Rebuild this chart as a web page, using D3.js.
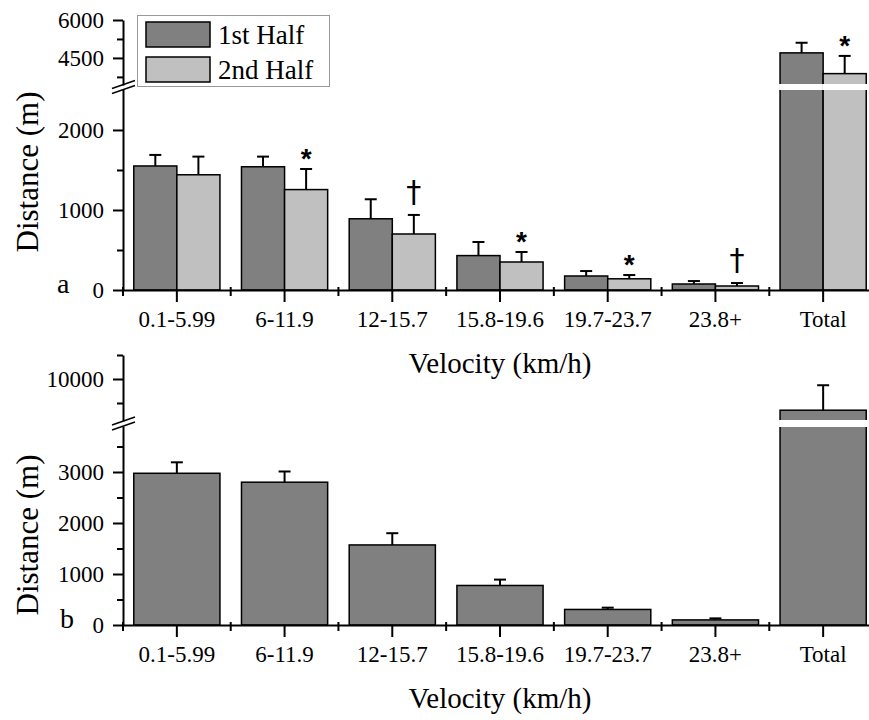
<!DOCTYPE html>
<html>
<head>
<meta charset="utf-8">
<script src="https://cdn.jsdelivr.net/npm/d3@7"></script>
<style>
  body { margin: 0; background: #fff; }
  svg { display: block; font-family: "Liberation Serif", "Times New Roman", serif; }
</style>
</head>
<body>
<svg id="chart" width="869" height="720"></svg>
<script>
// categories on the x axis
var categories = ["0.1-5.99", "6-11.9", "12-15.7", "15.8-19.6", "19.7-23.7", "23.8+", "Total"];

// panel a: distance per half (m) and upper error (SD)
var firstHalf = [1550, 1540, 890, 430, 175, 75, 4700];
var firstHalfErr = [138, 127, 244, 170, 62, 37, 400];
var secondHalf = [1440, 1255, 700, 350, 140, 50, 3880];
var secondHalfErr = [227, 257, 238, 125, 47, 37, 700];
var secondMarks = ["", "*", "\u2020", "*", "*", "\u2020", "*"];

// panel b: whole match distance (m) and upper error
var matchTotal = [2975, 2800, 1570, 775, 305, 100, 9350];
var matchErr = [215, 210, 230, 115, 35, 30, 520];

var seriesNames = ["1st Half", "2nd Half"];

var dark = "#808080", light = "#c0c0c0";
var svg = d3.select("#chart");

var x = d3.scaleBand().domain(categories).range([123, 877]).paddingInner(0.2).paddingOuter(0.1);
var step = x.step();

// broken y scale: a lower piece and an upper piece
function brokenScale(lowDom, lowRange, highDom, highRange) {
  var low = d3.scaleLinear().domain(lowDom).range(lowRange);
  var high = d3.scaleLinear().domain(highDom).range(highRange);
  var f = function (v) { return v <= lowDom[1] ? low(v) : high(v); };
  f.low = low; f.high = high;
  return f;
}

function drawPanel(opt) {
  var g = svg.append("g");
  var y = opt.y;
  var y0 = y.low(0);

  // bars
  opt.series.forEach(function (s) {
    var bars = g.append("g").selectAll("g").data(s.values).enter().append("g");
    bars.append("rect")
      .attr("x", (d, i) => s.xpos(i))
      .attr("y", d => y(d))
      .attr("width", s.width)
      .attr("height", d => y0 - y(d))
      .attr("fill", s.color)
      .attr("stroke", "#000")
      .attr("stroke-width", 1.5);
    // white gap where the bar crosses the axis break
    bars.filter(d => d > y.low.domain()[1]).append("rect")
      .attr("x", d => s.xpos(s.values.indexOf(d)) - 1)
      .attr("y", y.high.range()[0] - 1)
      .attr("width", s.width + 2)
      .attr("height", y.low.range()[1] - y.high.range()[0] + 2)
      .attr("fill", "#fff");
    // error bars
    bars.append("line")
      .attr("x1", (d, i) => s.xpos(i) + s.width / 2)
      .attr("x2", (d, i) => s.xpos(i) + s.width / 2)
      .attr("y1", d => y(d))
      .attr("y2", (d, i) => y(d + s.err[i]))
      .attr("stroke", "#000").attr("stroke-width", 2);
    bars.append("line")
      .attr("x1", (d, i) => s.xpos(i) + s.width / 2 - 6)
      .attr("x2", (d, i) => s.xpos(i) + s.width / 2 + 6)
      .attr("y1", (d, i) => y(d + s.err[i]))
      .attr("y2", (d, i) => y(d + s.err[i]))
      .attr("stroke", "#000").attr("stroke-width", 2);
    if (s.marks) {
      bars.append("text")
        .attr("x", (d, i) => s.xpos(i) + s.width / 2)
        .attr("y", (d, i) => y(d + s.err[i]) - (s.marks[i] == "*" ? 1 : 13))
        .attr("text-anchor", "middle")
        .style("font-family", (d, i) => s.marks[i] == "*" ? "Liberation Sans, Arial, sans-serif" : "DejaVu Sans, sans-serif")
        .attr("font-weight", (d, i) => s.marks[i] == "*" ? "bold" : "normal")
        .attr("font-size", (d, i) => s.marks[i] == "*" ? 28 : 30)
        .text((d, i) => s.marks[i]);
    }
  });

  // y axis pieces
  [[y.low, opt.lowMajor, opt.lowMinor], [y.high, opt.highMajor, opt.highMinor]].forEach(function (p) {
    var ax = g.append("g").attr("transform", "translate(123,0)")
      .call(d3.axisLeft(p[0]).tickValues(p[1]).tickSize(10).tickSizeOuter(0).tickPadding(9).tickFormat(d3.format("d")))
      .attr("font-family", null).attr("font-size", 23);
    g.append("g").attr("transform", "translate(123,0)")
      .call(d3.axisLeft(p[0]).tickValues(p[2]).tickSize(6).tickSizeOuter(0).tickFormat(""))
      .select(".domain").remove();
    ax.selectAll("text").attr("fill", "#000");
  });
  g.selectAll(".domain, .tick line").attr("stroke", "#000").attr("stroke-width", 2);

  // break marks on the y axis
  var yb = (y.high.range()[0] + y.low.range()[1]) / 2;
  [-2.5, 2.5].forEach(function (o) {
    g.append("line")
      .attr("x1", 112).attr("x2", 135)
      .attr("y1", yb + o + 4).attr("y2", yb + o - 4)
      .attr("stroke", "#000").attr("stroke-width", 1.5);
  });

  // x axis
  var xa = g.append("g").attr("transform", "translate(0," + y0 + ")")
    .call(d3.axisBottom(x).tickSize(12).tickSizeOuter(0).tickPadding(9))
    .attr("font-family", null).attr("font-size", 23);
  xa.selectAll("text").attr("fill", "#000");
  var bounds = d3.range(categories.length + 1).map(i => 123 + i * step);
  g.append("g").selectAll("line").data(bounds).enter().append("line")
    .attr("x1", d => d).attr("x2", d => d)
    .attr("y1", y0 - 3).attr("y2", y0 + 6)
    .attr("stroke", "#000").attr("stroke-width", 2);
  xa.selectAll(".domain, .tick line").attr("stroke", "#000").attr("stroke-width", 2);

  g.append("text")
    .attr("x", 500).attr("y", y0 + 83)
    .attr("text-anchor", "middle").attr("font-size", 29)
    .text("Velocity (km/h)");
  g.append("text")
    .attr("transform", "translate(38," + opt.labelY + ") rotate(-90)")
    .attr("text-anchor", "middle").attr("font-size", 31)
    .text("Distance (m)");
  g.append("text")
    .attr("x", opt.letterX).attr("y", y0 + 3)
    .attr("font-size", 28)
    .text(opt.letter);
}

var half = x.bandwidth() / 2;

drawPanel({
  y: brokenScale([0, 2512], [290, 89], [3430, 6000], [85, 20]),
  lowMajor: [0, 1000, 2000], lowMinor: [500, 1500],
  highMajor: [4500, 6000], highMinor: [3750, 5250],
  series: [
    { values: firstHalf, err: firstHalfErr, color: dark, width: half,
      xpos: i => x(categories[i]) },
    { values: secondHalf, err: secondHalfErr, color: light, width: half, marks: secondMarks,
      xpos: i => x(categories[i]) + half }
  ],
  labelY: 172, letter: "a", letterX: 57
});

drawPanel({
  y: brokenScale([0, 3902], [625, 426], [9125, 10500], [421, 355]),
  lowMajor: [0, 1000, 2000, 3000], lowMinor: [500, 1500, 2500, 3500],
  highMajor: [10000], highMinor: [9500, 10500],
  series: [
    { values: matchTotal, err: matchErr, color: dark, width: x.bandwidth(),
      xpos: i => x(categories[i]) }
  ],
  labelY: 535, letter: "b", letterX: 60
});

// legend
var legend = svg.append("g");
legend.append("rect")
  .attr("x", 137.5).attr("y", 15.5).attr("width", 192).attr("height", 71)
  .attr("fill", "#fff").attr("stroke", "#999").attr("stroke-width", 1);
legend.selectAll("g.item").data(seriesNames).enter().append("g")
  .each(function (d, i) {
    var it = d3.select(this);
    it.append("rect")
      .attr("x", 146).attr("y", 22 + i * 35).attr("width", 64).attr("height", 25)
      .attr("fill", i == 0 ? dark : light)
      .attr("stroke", "#000").attr("stroke-width", 1.5);
    it.append("text")
      .attr("x", 218).attr("y", 44 + i * 35)
      .attr("font-size", 27)
      .text(d);
  });
</script>
</body>
</html>
